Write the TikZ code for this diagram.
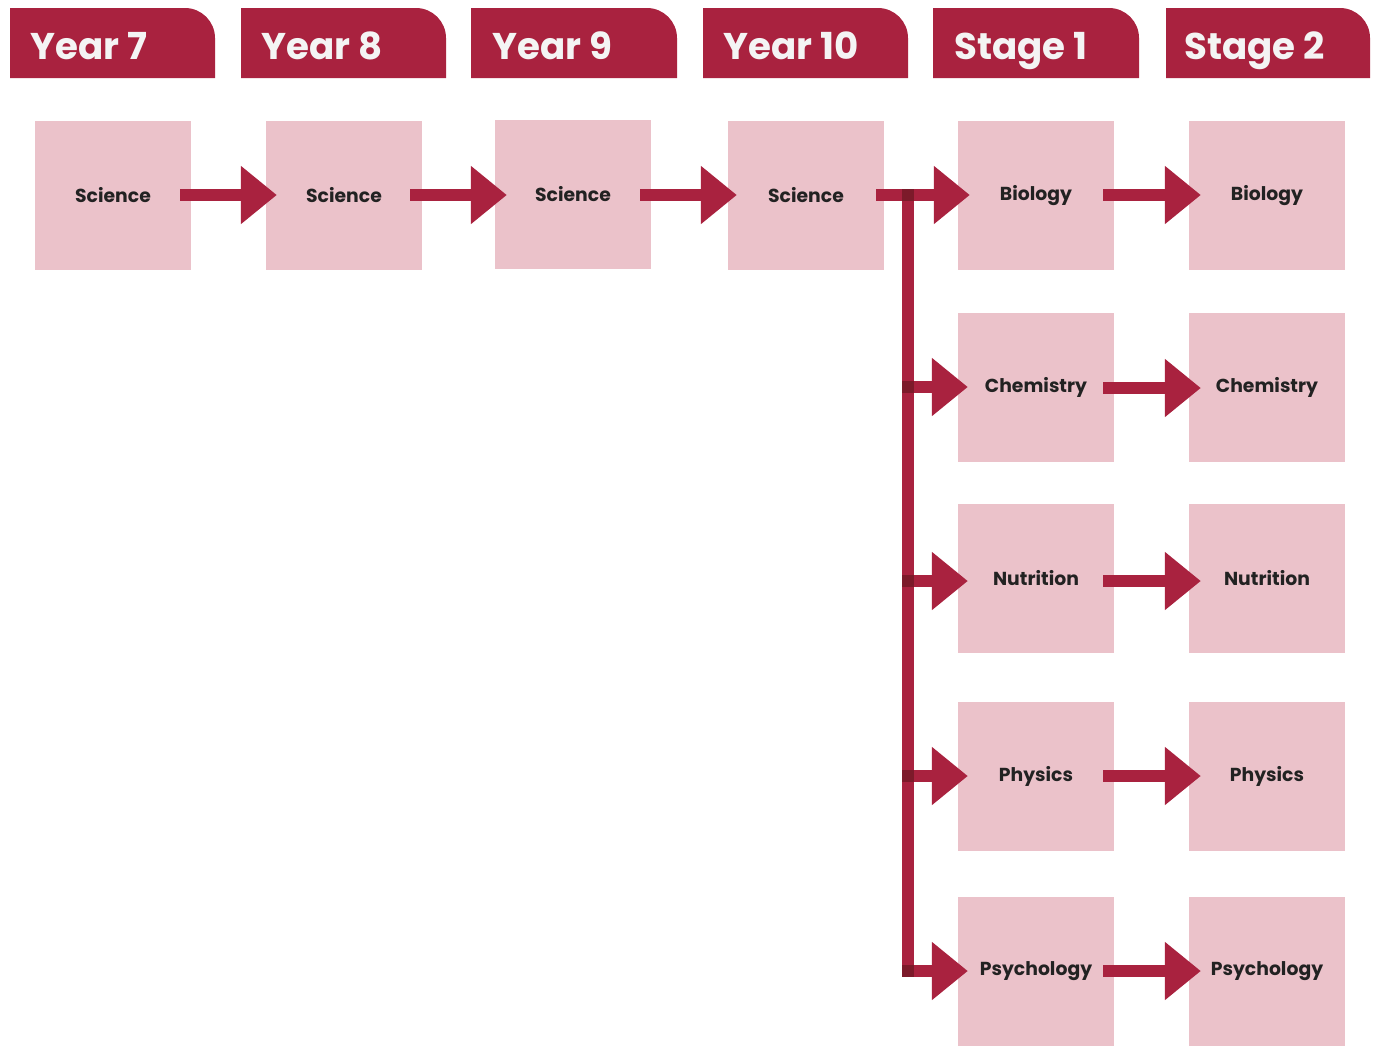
\documentclass[tikz,border=0pt]{standalone}
\usepackage{fontspec}
\setmainfont{Poppins}
\usetikzlibrary{arrows.meta}
\definecolor{crim}{HTML}{A9223F}
\definecolor{crimdark}{HTML}{7C1A2A}
\definecolor{boxpink}{HTML}{EBC2CA}
\definecolor{hdrtext}{HTML}{F4F4F4}
\definecolor{lbltext}{HTML}{222222}
\tikzset{
  box/.style={fill=boxpink, minimum width=156pt, minimum height=149pt, inner sep=0pt,
    font=\fontsize{18.8}{20}\selectfont\bfseries, text=lbltext},
  hdr/.style={font=\fontsize{37.2}{40}\selectfont\bfseries, text=hdrtext, inner sep=0pt, anchor=base west},
  fat/.style={draw=crim, line width=12pt, -{Triangle[length=36pt,width=56pt]}},
  trunk/.style={draw=crim, line width=12pt},
  joint/.style={fill=crimdark},
}
\newcommand{\tab}[2]{%
  \fill[crim] (#1,78) -- (#1,8) -- (#2-30,8) .. controls (#2-13.5,8) and (#2,21.5) .. (#2,38) -- (#2,78) -- cycle;}
\begin{document}
\begin{tikzpicture}[x=1pt,y=-1pt]
\useasboundingbox (0,0) rectangle (1378,1045);
% header tabs
\tab{10}{215}\tab{241}{446}\tab{471}{677}\tab{703}{908}\tab{933}{1139}\tab{1166}{1370}
\node[hdr] (h1) at (30,59) {Year 7};
\node[hdr] (h2) at (261,59) {Year 8};
\node[hdr] (h3) at (492,59) {Year 9};
\node[hdr] (h4) at (723,59) {Year 10};
\node[hdr] (h5) at (954,59) {Stage 1};
\node[hdr] (h6) at (1184,59) {Stage 2};
% boxes
\node[box] (s1) at (113,195.5) {Science};
\node[box] (s2) at (344,195.5) {Science};
\node[box] (s3) at (573,194.5) {Science};
\node[box] (s4) at (806,195.5) {Science};
\node[box] (a1) at (1036,195.5) {Biology};
\node[box] (a2) at (1036,387.5) {\raisebox{4pt}{Chemistry}};
\node[box] (a3) at (1036,578) {Nutrition};
\node[box] (a4) at (1036,776.5) {Physics};
\node[box] (a5) at (1036,971) {Psychology};
\node[box] (b1) at (1267,195.5) {\raisebox{4pt}{Biology}};
\node[box] (b2) at (1267,387.5) {Chemistry};
\node[box] (b3) at (1267,578) {Nutrition};
\node[box] (b4) at (1267,776.5) {Physics};
\node[box] (b5) at (1267,971) {Psychology};
% science chain
\draw[fat] ([xshift=-11pt]s1.east |- 0,195) -- ([xshift=11pt]s2.west |- 0,195);
\draw[fat] ([xshift=-12pt]s2.east |- 0,195) -- ([xshift=12pt]s3.west |- 0,195);
\draw[fat] ([xshift=-11pt]s3.east |- 0,195) -- ([xshift=9pt]s4.west |- 0,195);
% branch
\coordinate (jt) at (908,189);
\coordinate (jb) at (908,977);
\draw[trunk] (jt) -- (jb);
\draw[fat] ([xshift=-8pt]s4.east |- 0,195) -- ([xshift=12pt]a1.west |- 0,195);
\foreach \n/\yy in {a2/387,a3/581,a4/776,a5/971}{
  \draw[fat] (902,\yy) -- ([xshift=10pt]\n.west |- 0,\yy);
}
\foreach \yy in {195,387,581,776,971}{
  \fill[joint] (902,\yy-6) rectangle (914,\yy+6);
}
% stage 1 -> stage 2
\foreach \p/\q/\yy in {a1/b1/195,a2/b2/388,a3/b3/581,a4/b4/776,a5/b5/971}{
  \draw[fat] ([xshift=-11pt]\p.east |- 0,\yy) -- ([xshift=12pt]\q.west |- 0,\yy);
}
\end{tikzpicture}
\end{document}
